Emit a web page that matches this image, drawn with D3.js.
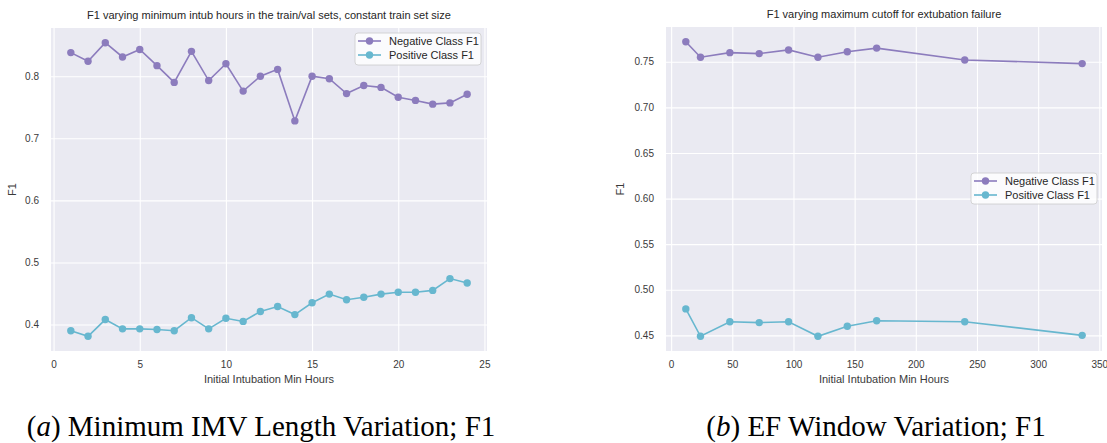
<!DOCTYPE html>
<html><head><meta charset="utf-8">
<script src="https://cdn.jsdelivr.net/npm/d3@7"></script>
<style>
body{margin:0;background:#fff;}
svg{display:block;}
</style></head>
<body>
<svg id="c" width="1107" height="443"></svg>
<script>
// ---- data ----
const hoursA = [1,2,3,4,5,6,7,8,9,10,11,12,13,14,15,16,17,18,19,20,21,22,23,24];
const negA = [0.838,0.824,0.854,0.831,0.843,0.817,0.790,0.840,0.793,0.820,0.776,0.800,0.811,0.728,0.800,0.796,0.772,0.785,0.782,0.766,0.761,0.755,0.757,0.771];
const posA = [0.390,0.381,0.408,0.393,0.393,0.392,0.390,0.411,0.393,0.410,0.405,0.421,0.429,0.416,0.435,0.449,0.440,0.444,0.449,0.452,0.452,0.455,0.474,0.467];
const hoursB = [12,24,48,72,96,120,144,168,240,336];
const negB = [0.772,0.755,0.760,0.759,0.763,0.755,0.761,0.765,0.752,0.748];
const posB = [0.479,0.449,0.465,0.464,0.465,0.449,0.460,0.466,0.465,0.450];
const xTicksA = [0,5,10,15,20,25];
const yTicksA = [0.4,0.5,0.6,0.7,0.8];
const xTicksB = [0,50,100,150,200,250,300,350];
const yTicksB = [0.45,0.50,0.55,0.60,0.65,0.70,0.75];
const seriesNames = ["Negative Class F1","Positive Class F1"];
const titles = ["F1 varying minimum intub hours in the train/val sets, constant train set size","F1 varying maximum cutoff for extubation failure"];
const captions = [["a"," Minimum IMV Length Variation; F1"],["b"," EF Window Variation; F1"]];
const xLabel = "Initial Intubation Min Hours";
const yLabel = "F1";

const colors = ["#8c7cbd","#67b7cf"];
const svg = d3.select("#c");
const SANS = "'Liberation Sans',Arial,sans-serif";

function pad(ext){const r=ext[1]-ext[0];return [ext[0]-0.05*r, ext[1]+0.05*r];}

function panel(cfg){
  const {x0,x1,y0,y1,xs,neg,pos,xt,yt,yfmt,title,legend} = cfg;
  const x = d3.scaleLinear().domain(pad(d3.extent(xs))).range([x0,x1]);
  const y = d3.scaleLinear().domain(pad(d3.extent(neg.concat(pos)))).range([y1,y0]);
  const g = svg.append("g");
  g.append("rect").attr("x",x0).attr("y",y0).attr("width",x1-x0).attr("height",y1-y0).attr("fill","#eaeaf2");
  const gx = g.append("g").attr("transform",`translate(0,${y1})`)
    .call(d3.axisBottom(x).tickValues(xt).tickSize(-(y1-y0)).tickPadding(10).tickFormat(d3.format("d")));
  const gy = g.append("g").attr("transform",`translate(${x0},0)`)
    .call(d3.axisLeft(y).tickValues(yt).tickSize(-(x1-x0)).tickPadding(12).tickFormat(d3.format(yfmt)));
  [gx,gy].forEach(a=>{
    a.select(".domain").remove();
    a.selectAll(".tick line").attr("stroke","#fff").attr("stroke-width",1.1);
    a.selectAll(".tick text").attr("fill","#3a3a3a").style("font-family",SANS).style("font-size","10px");
  });
  const line = d3.line().x((d,i)=>x(xs[i])).y(d=>y(d));
  [neg,pos].forEach((s,k)=>{
    g.append("path").datum(s).attr("d",line).attr("fill","none").attr("stroke",colors[k]).attr("stroke-width",1.6);
    g.selectAll(null).data(s).enter().append("circle")
      .attr("cx",(d,i)=>x(xs[i])).attr("cy",d=>y(d)).attr("r",3.7).attr("fill",colors[k]);
  });
  g.append("text").attr("x",(x0+x1)/2).attr("y",y0-9).attr("text-anchor","middle")
    .style("font-family",SANS).style("font-size","11px").attr("fill","#262626").text(title);
  g.append("text").attr("x",(x0+x1)/2).attr("y",y1+32).attr("text-anchor","middle")
    .style("font-family",SANS).style("font-size","11px").attr("fill","#3a3a3a").text(xLabel);
  g.append("text").attr("transform",`translate(${cfg.ylx},${(y0+y1)/2}) rotate(-90)`).attr("text-anchor","middle")
    .style("font-family",SANS).style("font-size","11px").attr("fill","#3a3a3a").text(yLabel);
  const L = legend;
  const lg = g.append("g");
  lg.append("rect").attr("x",L.x).attr("y",L.y).attr("width",L.w).attr("height",L.h).attr("rx",3)
    .attr("fill","#ffffff").attr("fill-opacity",0.8).attr("stroke","#cccccc").attr("stroke-width",0.8);
  seriesNames.forEach((n,k)=>{
    const ry = L.y+8+k*14;
    lg.append("line").attr("x1",L.x+3).attr("x2",L.x+26).attr("y1",ry).attr("y2",ry).attr("stroke",colors[k]).attr("stroke-width",1.6);
    lg.append("circle").attr("cx",L.x+14.5).attr("cy",ry).attr("r",3.7).attr("fill",colors[k]);
    lg.append("text").attr("x",L.x+34).attr("y",ry+3.8)
      .style("font-family",SANS).style("font-size","11px").attr("fill","#262626").text(n);
  });
}

panel({x0:51,x1:487,y0:28,y1:351,xs:hoursA,neg:negA,pos:posA,xt:xTicksA,yt:yTicksA,yfmt:".1f",title:titles[0],ylx:16,
  legend:{x:355,y:33,w:126,h:32}});
panel({x0:666,x1:1102,y0:27,y1:351,xs:hoursB,neg:negB,pos:posB,xt:xTicksB,yt:yTicksB,yfmt:".2f",title:titles[1],ylx:624,
  legend:{x:971,y:173,w:126,h:31}});

const capCenters = [261, 876];
captions.forEach((c,i)=>{
  const t = svg.append("text").attr("x",capCenters[i]).attr("y",436).attr("text-anchor","middle")
    .style("font-family","'Liberation Serif','Times New Roman',serif").style("font-size","29px").attr("fill","#000");
  t.append("tspan").text("(");
  t.append("tspan").style("font-style","italic").text(c[0]);
  t.append("tspan").text(")"+c[1]);
});
</script>
</body></html>
